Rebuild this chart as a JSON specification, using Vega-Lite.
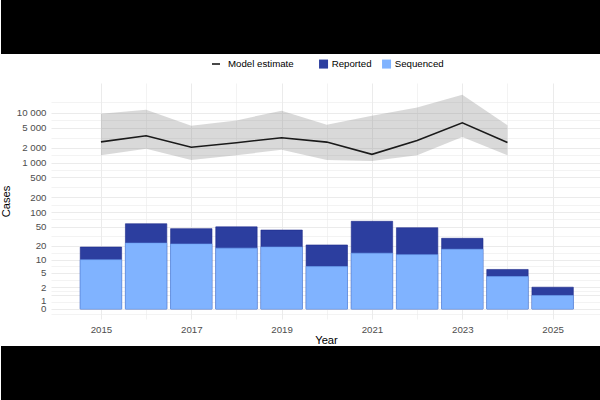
{
  "$schema": "https://vega.github.io/schema/vega-lite/v6.json",
  "padding": 0,
  "spacing": 0,
  "background": "white",
  "resolve": {"legend": {"fill": "independent", "stroke": "independent"}, "scale": {"fill": "independent", "stroke": "independent"}},
  "config": {
    "view": {"stroke": null},
    "font": "Liberation Sans",
    "axis": {
      "labelFont": "Liberation Sans",
      "titleFont": "Liberation Sans",
      "labelFontSize": 9.7,
      "labelColor": "#4D4D4D",
      "titleFontSize": 11.2,
      "titleFontWeight": "normal",
      "titleColor": "black",
      "domain": false,
      "ticks": false,
      "tickSize": 0,
      "gridColor": "#EBEBEB",
      "labelOverlap": false,
      "labelFlush": false
    },
    "legend": {
      "labelFont": "Liberation Sans",
      "labelFontSize": 9.7,
      "labelColor": "black"
    }
  },
  "datasets": {
    "est": [
      {"year": 2015, "est": 2600, "lo": 1400, "hi": 9500},
      {"year": 2016, "est": 3450, "lo": 1900, "hi": 11400},
      {"year": 2017, "est": 2030, "lo": 1120, "hi": 5450},
      {"year": 2018, "est": 2500, "lo": 1400, "hi": 7000},
      {"year": 2019, "est": 3150, "lo": 1800, "hi": 11000},
      {"year": 2020, "est": 2570, "lo": 1120, "hi": 5700},
      {"year": 2021, "est": 1460, "lo": 1070, "hi": 8700},
      {"year": 2022, "est": 2780, "lo": 1400, "hi": 12700},
      {"year": 2023, "est": 6260, "lo": 3250, "hi": 23000},
      {"year": 2024, "est": 2530, "lo": 1400, "hi": 5630}
    ],
    "bars": [
      {"year": 2015, "type": "Reported", "cases": 19},
      {"year": 2016, "type": "Reported", "cases": 58},
      {"year": 2017, "type": "Reported", "cases": 46},
      {"year": 2018, "type": "Reported", "cases": 50},
      {"year": 2019, "type": "Reported", "cases": 43},
      {"year": 2020, "type": "Reported", "cases": 21},
      {"year": 2021, "type": "Reported", "cases": 65},
      {"year": 2022, "type": "Reported", "cases": 48},
      {"year": 2023, "type": "Reported", "cases": 29},
      {"year": 2024, "type": "Reported", "cases": 6},
      {"year": 2025, "type": "Reported", "cases": 2},
      {"year": 2015, "type": "Sequenced", "cases": 10},
      {"year": 2016, "type": "Sequenced", "cases": 23},
      {"year": 2017, "type": "Sequenced", "cases": 22},
      {"year": 2018, "type": "Sequenced", "cases": 18},
      {"year": 2019, "type": "Sequenced", "cases": 19},
      {"year": 2020, "type": "Sequenced", "cases": 7},
      {"year": 2021, "type": "Sequenced", "cases": 14},
      {"year": 2022, "type": "Sequenced", "cases": 13},
      {"year": 2023, "type": "Sequenced", "cases": 17},
      {"year": 2024, "type": "Sequenced", "cases": 4},
      {"year": 2025, "type": "Sequenced", "cases": 1}
    ]
  },
  "vconcat": [
    {
      "width": 600,
      "height": 54,
      "view": {"fill": "black", "stroke": null},
      "data": {"values": []},
      "mark": {"type": "rect", "opacity": 0},
      "encoding": {}
    },
    {
      "width": 600,
      "height": 236,
      "layer": [
        {
          "data": {"name": "est"},
          "mark": {"type": "area", "color": "#808080", "opacity": 0.3},
          "encoding": {
            "x": {
              "field": "year", "type": "quantitative",
              "scale": {"domain": [2014.005, 2025.96], "range": [50, 600], "nice": false, "zero": false},
              "axis": {
                "title": "Year",
                "values": [2015, 2016, 2017, 2018, 2019, 2020, 2021, 2022, 2023, 2024, 2025],
                "tickCount": 50,
                "labelExpr": "datum.value % 2 == 1 ? format(datum.value, 'd') : ''",
                "labelPadding": 5,
                "titlePadding": 1,
                "titleX": 325,
                "gridWidth": {"condition": {"test": "datum.value % 2 == 1", "value": 1}, "value": 0.6}
              }
            },
            "y": {
              "field": "lo", "type": "quantitative",
              "scale": {"type": "symlog", "constant": 1.15, "domain": [-0.6755, 39448], "nice": false, "zero": false},
              "axis": {
                "title": "Cases",
                "offset": -50,
                "values": [-0.266, 0, 0.4225, 1, 1.452, 2, 3.251, 5, 7.131, 10, 14.207, 20, 31.74, 50, 70.78, 100, 141.4, 200, 316.2, 500, 707.1, 1000, 1414, 2000, 3162, 5000, 7071, 10000, 16635],
                "tickCount": 100,
                "labelExpr": "(datum.value == 0 || datum.value == 1 || datum.value == 2 || datum.value == 5 || datum.value == 10 || datum.value == 20 || datum.value == 50 || datum.value == 100 || datum.value == 200 || datum.value == 500) ? format(datum.value, 'd') : (datum.value == 1000 || datum.value == 2000 || datum.value == 5000 || datum.value == 10000) ? format(floor(datum.value / 1000), 'd') + ' 000' : ''",
                "labelBaseline": {"condition": {"test": "datum.value == 1", "value": "top"}, "value": "middle"},
                "labelPadding": 5,
                "titlePadding": 5,
                "gridWidth": {"condition": {"test": "datum.value == 0 || datum.value == 1 || datum.value == 2 || datum.value == 5 || datum.value == 10 || datum.value == 20 || datum.value == 50 || datum.value == 100 || datum.value == 200 || datum.value == 500 || datum.value == 1000 || datum.value == 2000 || datum.value == 5000 || datum.value == 10000", "value": 1}, "value": 0.6}
              }
            },
            "y2": {"field": "hi"}
          }
        },
        {
          "data": {"name": "est"},
          "mark": {"type": "line", "strokeWidth": 1.6},
          "encoding": {
            "x": {"field": "year", "type": "quantitative"},
            "y": {"field": "est", "type": "quantitative"},
            "stroke": {
              "datum": "Model estimate",
              "scale": {"domain": ["Model estimate"], "range": ["#1A1A1A"]},
              "legend": {
                "orient": "none", "legendX": 205, "legendY": -29, "title": null,
                "padding": 5, "symbolType": "stroke", "symbolSize": 64,
                "symbolStrokeWidth": 1.6, "labelOffset": 7
              }
            }
          }
        },
        {
          "data": {"name": "bars"},
          "transform": [{"filter": "datum.type == 'Reported'"}],
          "mark": {"type": "bar", "width": 41.4, "stroke": "#1F2C8C", "strokeWidth": 0.6},
          "encoding": {
            "x": {"field": "year", "type": "quantitative"},
            "y": {"field": "cases", "type": "quantitative", "stack": null},
            "fill": {
              "field": "type", "type": "nominal",
              "scale": {"domain": ["Reported", "Sequenced"], "range": ["#2C3E9F", "#80B3FF"]},
              "legend": {
                "orient": "none", "legendX": 312.7, "legendY": -29, "title": null,
                "direction": "horizontal", "padding": 5, "symbolType": "square",
                "symbolSize": 81, "symbolStrokeWidth": 0, "labelOffset": 3.3,
                "columnPadding": 10
              }
            }
          }
        },
        {
          "data": {"name": "bars"},
          "transform": [{"filter": "datum.type == 'Sequenced'"}],
          "mark": {"type": "bar", "width": 41.4, "stroke": "#6DA2F2", "strokeWidth": 0.6},
          "encoding": {
            "x": {"field": "year", "type": "quantitative"},
            "y": {"field": "cases", "type": "quantitative", "stack": null},
            "fill": {"field": "type", "type": "nominal"}
          }
        }
      ]
    },
    {
      "width": 600,
      "height": 54,
      "view": {"fill": "black", "stroke": null},
      "data": {"values": []},
      "mark": {"type": "rect", "opacity": 0},
      "encoding": {}
    }
  ]
}
